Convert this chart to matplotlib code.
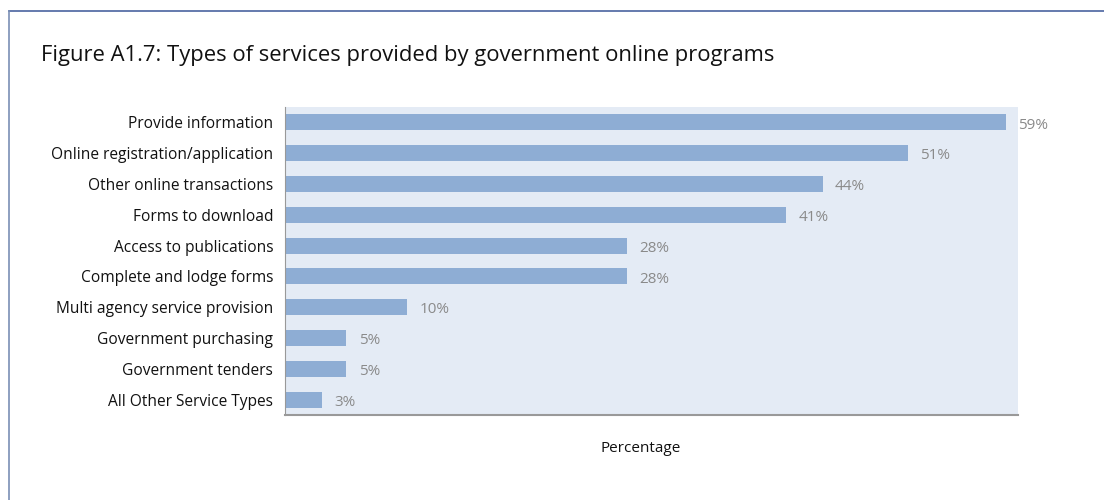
import matplotlib.pyplot as plt
from matplotlib.lines import Line2D

plt.rcParams['font.family'] = ['Open Sans', 'DejaVu Sans']

services = ['Provide information', 'Online registration/application',
            'Other online transactions', 'Forms to download',
            'Access to publications', 'Complete and lodge forms',
            'Multi agency service provision', 'Government purchasing',
            'Government tenders', 'All Other Service Types']
shares = [59, 51, 44, 41, 28, 28, 10, 5, 5, 3]
value_labels = ['59%', '51%', '44%', '41%', '28%', '28%', '10%', '5%', '5%', '3%']

fig = plt.figure(figsize=(11.04, 5.0), dpi=100)
ax = fig.add_axes([285 / 1104, 1 - 415 / 500, 733 / 1104, 308 / 500])

ypos = list(range(len(services)))
ax.barh(ypos, shares, height=0.52, color='#8eadd4', zorder=2)
ax.set_facecolor('#e4ebf5')
ax.set_xlim(0, 60)
ax.set_ylim(len(services) - 0.5, -0.5)

ax.set_yticks(ypos)
ax.set_yticklabels(services, fontsize=11.2, color='#111111')
ax.tick_params(axis='y', length=0, pad=8.5)
ax.set_xticks([])
ax.set_xlabel('Percentage', fontsize=11, color='#111111')
ax.xaxis.set_label_coords(0.485, -0.085)

for sp in ['top', 'right']:
    ax.spines[sp].set_visible(False)
ax.spines['left'].set_color('#999999')
ax.spines['bottom'].set_color('#999999')
ax.spines['bottom'].set_linewidth(1.5)

for y, v, lab in zip(ypos, shares, value_labels):
    ax.annotate(lab, (v, y), xytext=(9, -2), textcoords='offset points',
                va='center', ha='left', fontsize=11, color='#8a8a8a',
                annotation_clip=False)

fig.text(41 / 1104, 1 - 55 / 500, 'Figure A1.7: Types of services provided by government online programs',
         fontsize=15.8, color='#111111', va='center', ha='left')

# frame lines along the top and left
fig.add_artist(Line2D([9 / 1104, 1], [1 - 11 / 500, 1 - 11 / 500],
                      color='#4a64a0', lw=1.2, transform=fig.transFigure))
fig.add_artist(Line2D([9 / 1104, 9 / 1104], [0, 1 - 11 / 500],
                      color='#7a8fb5', lw=1.2, transform=fig.transFigure))

fig.savefig('out.png', dpi=100)
